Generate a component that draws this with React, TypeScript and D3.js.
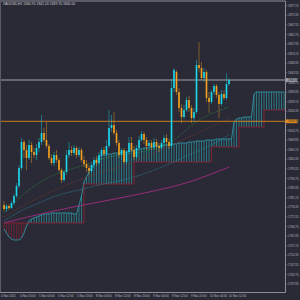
import React from "react";
import * as d3 from "d3";

// ---- Data ----
const symbolTitle = "XAUUSD,H1  1840.95 1841.20 1839.70 1840.00";

const opens = [1777.5,1775.5,1777,1776,1778.5,1782,1787,1796,1809,1805,1801,1807.5,1804,1802.5,1806,1809,1813.5,1810,1807,1801,1798.5,1802.5,1800,1795,1790,1794,1802.5,1805,1803.5,1806,1802.5,1805,1800,1798,1796,1794.5,1797.5,1800,1798.5,1802.5,1805,1803,1807,1816,1817.5,1813.5,1808.5,1802.5,1805,1799,1804,1808.5,1805,1801.5,1806,1810,1813,1810,1807,1808.5,1806.5,1809,1807,1806,1808.5,1811,1809,1807,1836,1844,1834,1826,1821.5,1825,1830,1826,1821,1824,1847.5,1846,1841,1844,1831,1829,1834,1837,1832.5,1828,1833,1831,1838];
const closes = [1775.5,1777,1776,1778.5,1782,1787,1796,1809,1805,1801,1807.5,1804,1802.5,1806,1809,1813.5,1810,1807,1801,1798.5,1802.5,1800,1795,1790,1794,1802.5,1805,1803.5,1806,1802.5,1805,1800,1798,1796,1794.5,1797.5,1800,1798.5,1802.5,1805,1803,1807,1816,1817.5,1813.5,1808.5,1802.5,1805,1799,1804,1808.5,1805,1801.5,1806,1810,1813,1810,1807,1808.5,1806.5,1809,1807,1806,1808.5,1811,1809,1807,1836,1845,1834,1826,1821.5,1825,1830,1826,1821,1824,1847.5,1846,1841,1844,1831,1829,1834,1837,1832.5,1828,1833,1831,1838,1840];
const highs = [1779.5,1778,1778,1779.5,1783,1788.5,1797.5,1811,1810,1807.5,1810,1809,1806,1808,1811,1822.5,1816,1819,1808,1803,1804,1805,1801,1796,1795,1805,1809,1807,1807.5,1807,1806.5,1806,1802,1800,1797.5,1798.5,1801.5,1802,1804,1806,1806.5,1810,1825,1822.5,1824,1815,1810,1806,1806,1805,1811.5,1811.5,1807,1807.5,1812,1814.5,1814,1811.5,1810,1810,1811,1810.5,1808.5,1810,1812.5,1813,1810.5,1840.5,1846,1845,1836,1828,1827.5,1831.5,1832,1827.5,1826,1850,1859,1849,1846,1845,1834,1835,1838,1838,1834,1835,1835,1843.5,1841];
const lows = [1774.5,1774,1775,1775.5,1777.5,1781,1786,1795,1801,1795,1800,1798.5,1801,1800,1804,1807.5,1809,1806,1800,1797.5,1797,1798.5,1794,1788.5,1789,1792.5,1801,1802,1802,1801,1801.5,1799,1796.5,1794,1792.5,1793.5,1796,1797,1797.5,1800,1802,1802,1806,1814,1812.5,1807,1801,1800,1798,1798,1803,1804,1800,1800.5,1805,1809,1808,1805,1806,1805,1805,1805.5,1804,1805,1807,1807.5,1805.5,1806,1834,1832.5,1824,1818.5,1820.5,1824,1824,1818.5,1819,1823,1844,1840,1839,1829,1823.5,1828,1832.5,1831,1821,1827,1830,1830,1837];

// Ichimoku cloud (already shifted forward), one value per bar slot
const spanA = [1765.5,1763.5,1761.5,1760.5,1760,1760,1760,1761,1763.5,1767,1769.5,1770.5,1771,1771.5,1772,1772.5,1773,1773,1773,1773.5,1773.5,1773.5,1773.5,1773.5,1773.5,1773.5,1773.5,1773.5,1773,1773,1777.5,1782,1789,1791.5,1794,1796,1798,1800,1801.5,1802.5,1802.5,1802.5,1803,1803,1803.5,1803.5,1803.5,1804,1804,1804,1804.5,1804.5,1805,1805,1805.5,1805.5,1806,1806,1806,1806.5,1806.5,1807,1807,1807,1807.5,1807.5,1807.5,1808,1808,1808,1808.5,1808.5,1808.5,1808.5,1809,1809,1809,1809.5,1809.5,1809.5,1809.5,1810,1810,1810,1810,1810.5,1810.5,1810.5,1810.5,1810.5,1810.5,1810.5,1819,1820.5,1821,1821,1821.5,1821.5,1821.5,1821.5,1833,1834,1834,1834,1834,1834,1834,1834,1834,1834,1834,1834,1834];
const spanB = [1768.5,1768.5,1768.5,1768.5,1768.5,1768.5,1768.5,1768.5,1768.5,1768.5,1768.5,1768.5,1768.5,1768.5,1768.5,1768.5,1768.5,1768.5,1768.5,1768.5,1768.5,1768.5,1768.5,1768.5,1768.5,1768.5,1768.5,1768.5,1768.5,1768.5,1768.5,1768.5,1788,1788,1788,1788,1788,1788,1788,1788,1788,1788,1788,1788,1788,1788,1788,1788,1788,1788,1788,1788,1799,1799,1799,1799,1799,1799,1799,1799,1799,1799,1799,1799,1799,1799,1799,1799,1799,1799,1799,1799,1799,1799,1799,1799,1799,1799,1799,1799,1799,1799,1799,1806.5,1806.5,1806.5,1806.5,1806.5,1806.5,1806.5,1806.5,1806.5,1806.5,1806.5,1816.5,1816.5,1816.5,1816.5,1816.5,1816.5,1816.5,1816.5,1816.5,1816.5,1825,1825,1825,1825,1825,1825,1825,1825,1825,1825,1825];

// Moving averages, read at a few bars
const maGreenIdx = [0, 6, 16, 32, 42, 58, 66, 78, 90];
const maGreen = [1773.5, 1781, 1790, 1797.5, 1801.5, 1805, 1808.5, 1820, 1826.5];
const maBrownIdx = [0, 12, 25, 38, 52, 58, 74, 90];
const maBrown = [1771.5, 1780, 1787.5, 1793.5, 1799, 1802.5, 1811.5, 1820.5];
const maTealIdx = [0, 6, 14, 22, 30, 38, 46, 58, 66, 74, 82, 90];
const maTeal = [1769.5, 1774, 1778.5, 1782.5, 1785, 1787.5, 1789.5, 1794, 1798, 1802.5, 1807, 1812.5];
const maMagentaIdx = [0, 18, 38, 58, 74, 90];
const maMagenta = [1768.5, 1774, 1779, 1784, 1789, 1796.5];

const bidPrice = 1840;
const levelPrice = 1819.35;

const priceTicks = d3.range(30).map((i) => 1877.15 - 4.8 * i);
const timeLabels = ["4 Nov 2021","4 Nov 20:00","5 Nov 04:00","5 Nov 12:00","5 Nov 20:00","8 Nov 04:00","8 Nov 12:00","8 Nov 20:00","9 Nov 04:00","9 Nov 12:00","9 Nov 20:00","10 Nov 04:00","10 Nov 12:00"];

// ---- Layout ----
const W = 300, H = 300;
const plotRight = 285.5, plotBottom = 292.5, plotTop = 1, plotLeft = 0.5;
const BG = "#2a2a36";
const BULL = "#19d9ec";
const BEAR = "#f5a21f";
const FONT = "Liberation Sans, Arial, sans-serif";

export default function App() {
  const x = d3.scaleLinear().domain([0, 112]).range([4, 284]);
  const y = d3.scaleLinear().domain([1880, 1730]).range([0, 300]);
  const tx = d3.scaleLinear().domain([0, timeLabels.length - 1]).range([1, 229]);

  const maLine = (idx: number[], vals: number[]) =>
    d3.line<number>().x((_, i) => x(idx[i])).y((v) => y(v)).curve(d3.curveMonotoneX)(vals) || "";

  const aLine = d3.line<number>().x((_, i) => x(i)).y((v) => y(v))(spanA) || "";
  const bLine = d3.line<number>().x((_, i) => x(i)).y((v) => y(v)).curve(d3.curveStepAfter)(spanB) || "";

  return (
    <svg width={W} height={H} style={{ position: "fixed", left: 0, top: 0, display: "block", background: BG }}>
      <rect x={0} y={0} width={W} height={H} fill={BG} />
      <defs>
        <clipPath id="plot">
          <rect x={plotLeft} y={plotTop} width={plotRight - plotLeft} height={plotBottom - plotTop} />
        </clipPath>
      </defs>
      <g clipPath="url(#plot)">
        {/* cloud hatch */}
        {spanA.map((a, i) => {
          const b = spanB[i];
          return (
            <line key={"h" + i} x1={x(i)} x2={x(i)} y1={y(a)} y2={y(b)}
              stroke={a >= b ? "#2a8f9c" : "#7e1d2e"} strokeWidth={0.8} opacity={0.95} />
          );
        })}
        <path d={aLine} fill="none" stroke="#2fa0ac" strokeWidth={0.8} />
        <path d={bLine} fill="none" stroke="#8a2233" strokeWidth={0.9} />
        {/* moving averages */}
        <path d={maLine(maMagentaIdx, maMagenta)} fill="none" stroke="#a02c80" strokeWidth={0.9} />
        <path d={maLine(maTealIdx, maTeal)} fill="none" stroke="#2aa3b3" strokeWidth={0.7} strokeDasharray="0.8,1" />
        <path d={maLine(maBrownIdx, maBrown)} fill="none" stroke="#8a3c2c" strokeWidth={0.7} strokeDasharray="0.8,1" />
        <path d={maLine(maGreenIdx, maGreen)} fill="none" stroke="#2f9a3c" strokeWidth={0.7} strokeDasharray="0.8,1" />
        {/* horizontal lines */}
        <line x1={plotLeft} x2={plotRight} y1={y(levelPrice)} y2={y(levelPrice)} stroke="#d9861c" strokeWidth={0.9} />
        <line x1={plotLeft} x2={plotRight} y1={y(bidPrice)} y2={y(bidPrice)} stroke="#8a8a92" strokeWidth={1.4} opacity={0.85} />
        {/* candles */}
        {opens.map((o, i) => {
          const c = closes[i];
          const col = c >= o ? BULL : BEAR;
          const top = y(Math.max(o, c));
          const bot = y(Math.min(o, c));
          return (
            <g key={"c" + i}>
              <line x1={x(i)} x2={x(i)} y1={y(highs[i])} y2={y(lows[i])} stroke={col} strokeWidth={0.6} opacity={0.7} />
              <rect x={x(i) - 0.8} y={top} width={1.6} height={Math.max(0.7, bot - top)} fill={col} />
            </g>
          );
        })}
      </g>
      {/* frame */}
      <line x1={0} x2={plotRight} y1={plotTop} y2={plotTop} stroke="#8c8c94" strokeWidth={1} />
      <line x1={plotLeft} x2={plotLeft} y1={plotTop} y2={plotBottom} stroke="#5a5a66" strokeWidth={1} />
      <line x1={plotRight} x2={plotRight} y1={plotTop} y2={plotBottom} stroke="#8c8c94" strokeWidth={1} />
      <line x1={0} x2={plotRight} y1={plotBottom} y2={plotBottom} stroke="#8c8c94" strokeWidth={1} />
      {/* title */}
      <text x={3} y={4.6} fontSize={3.4} fill="#d0d0d0" fontFamily={FONT}>{symbolTitle}</text>
      {/* price axis */}
      {priceTicks.map((p, i) => (
        <g key={"t" + i}>
          <line x1={plotRight} x2={plotRight + 2} y1={y(p)} y2={y(p)} stroke="#8c8c94" strokeWidth={0.5} />
          <text x={plotRight + 2.6} y={y(p) + 1} fontSize={2.9} fill="#b8b8c0" fontFamily={FONT}>{p.toFixed(2)}</text>
        </g>
      ))}
      <rect x={plotRight + 0.5} y={y(bidPrice) - 1.9} width={11.5} height={3.8} fill="#9c9ca4" />
      <text x={plotRight + 2.6} y={y(bidPrice) + 1} fontSize={2.9} fill="#202028" fontFamily={FONT}>{bidPrice.toFixed(2)}</text>
      <rect x={plotRight} y={y(levelPrice) - 1.9} width={12} height={3.8} fill="#e08a1e" />
      <text x={plotRight + 2.6} y={y(levelPrice) + 1} fontSize={2.9} fill="#202028" fontFamily={FONT}>{levelPrice.toFixed(2)}</text>
      {/* time axis */}
      {timeLabels.map((t, i) => (
        <text key={"x" + i} x={tx(i)} y={297} fontSize={2.9} fill="#b8b8c0" fontFamily={FONT}>{t}</text>
      ))}
    </svg>
  );
}
